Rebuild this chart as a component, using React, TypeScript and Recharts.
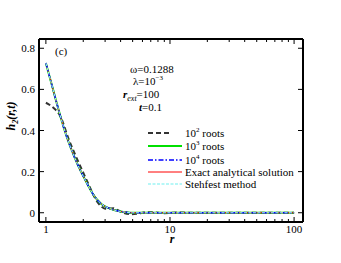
import React from 'react';
import { LineChart, Line, XAxis, YAxis, Customized } from 'recharts';

// exact analytical solution (10^3, 10^4 roots and Stehfest sit on top of it)
const rExact = [1, 1.1, 1.2, 1.3, 1.4, 1.5, 1.6, 1.7, 1.8, 1.9, 2.0, 2.2, 2.4, 2.6, 2.8, 3.0, 3.3, 3.6, 4.0, 4.5, 5, 6, 8, 10, 15, 20, 30, 50, 70, 100];
const hExact = [0.728, 0.636, 0.551, 0.476, 0.41, 0.355, 0.31, 0.27, 0.235, 0.205, 0.178, 0.13, 0.09, 0.062, 0.043, 0.031, 0.02, 0.012, 0.006, 0.002, 0, 0, 0, 0, 0, 0, 0, 0, 0, 0];

// 10^2 roots, truncated series with its wiggle near zero
const rRoots2 = [1, 1.1, 1.2, 1.3, 1.35, 1.5, 1.7, 2.0, 2.2, 2.4, 2.6, 2.8, 3.0, 3.2, 3.5, 3.8, 4.2, 4.8, 5.5, 6.5, 7.5, 9, 12, 16, 25, 40, 60, 100];
const hRoots2 = [0.535, 0.52, 0.5, 0.472, 0.45, 0.37, 0.29, 0.195, 0.14, 0.09, 0.052, 0.03, 0.02, 0.02, 0.022, 0.012, 0, -0.007, -0.004, 0.003, 0.002, -0.002, 0.001, 0, 0, 0, 0, 0];

const xTicks = [1, 2, 3, 4, 5, 6, 7, 8, 9, 10, 20, 30, 40, 50, 60, 70, 80, 90, 100];
const xLabels = [1, 10, 100];
const yTicks = [0, 0.2, 0.4, 0.6, 0.8];

const FONT = 'Liberation Serif, Times New Roman, serif';
const txt = { fontFamily: FONT };

const toPoints = (rs: number[], hs: number[]) => rs.map((r, i) => ({ r, h: hs[i] }));

const exactData = toPoints(rExact, hExact);
const roots2Data = toPoints(rRoots2, hRoots2);

const BottomTick = ({ x, y, payload }: any) => {
  const major = xLabels.includes(payload.value);
  return (
    <g>
      <line x1={x} y1={y} x2={x} y2={y - (major ? 5 : 3)} stroke="#000" strokeWidth={1} />
      {major && (
        <text x={x} y={y + 11} textAnchor="middle" style={txt} fontSize={11} fill="#000">
          {payload.value}
        </text>
      )}
    </g>
  );
};

const TopTick = ({ x, y, payload }: any) => {
  const major = xLabels.includes(payload.value);
  return <line x1={x} y1={y} x2={x} y2={y + (major ? 5 : 3)} stroke="#000" strokeWidth={1} />;
};

const LeftTick = ({ x, y, payload }: any) => (
  <g>
    <line x1={x} y1={y} x2={x + 5} y2={y} stroke="#000" strokeWidth={1} />
    <text x={x - 4} y={y + 4} textAnchor="end" style={txt} fontSize={11} fill="#000">
      {payload.value}
    </text>
  </g>
);

const RightTick = ({ x, y }: any) => <line x1={x} y1={y} x2={x - 5} y2={y} stroke="#000" strokeWidth={1} />;

const legendItems = [
  { key: 'roots2', pow: '2', name: 'roots', stroke: '#333', width: 2, dash: '5 3' },
  { key: 'roots3', pow: '3', name: 'roots', stroke: '#00e000', width: 2, dash: undefined },
  { key: 'roots4', pow: '4', name: 'roots', stroke: '#0000ff', width: 1.5, dash: '5 2 1.5 2' },
  { key: 'exact', pow: '', name: 'Exact analytical solution', stroke: '#ff0000', width: 1, dash: undefined },
  { key: 'stehfest', pow: '', name: 'Stehfest method', stroke: '#9ff5f5', width: 1.5, dash: '3 1.5' },
];

const LegendBox = () => {
  const rowY = [133, 146, 160, 172, 184];
  return (
    <g style={txt} fontSize={11} fill="#000">
      {legendItems.map((it, i) => (
        <g key={it.key}>
          <line x1={148} x2={it.key === 'roots2' ? 170 : 182} y1={rowY[i]} y2={rowY[i]} stroke={it.stroke} strokeWidth={it.width} strokeDasharray={it.dash} />
          <text x={185} y={rowY[i] + 4} style={txt}>
            {it.pow ? (
              <>
                10<tspan fontSize={7} dy={-5}>{it.pow}</tspan>
                <tspan dy={5}> {it.name}</tspan>
              </>
            ) : (
              it.name
            )}
          </text>
        </g>
      ))}
    </g>
  );
};

const Annotations = () => (
  <g style={txt} fontSize={11} fill="#000">
    <text x={55} y={55} style={txt}>(c)</text>
    <text x={130} y={73} style={txt}>ω=0.1288</text>
    <text x={133} y={85} style={txt}>
      λ=10<tspan fontSize={7} dy={-5}>−3</tspan>
    </text>
    <text x={123} y={98} style={txt}>
      <tspan fontStyle="italic" fontWeight="bold">r</tspan>
      <tspan fontStyle="italic" fontSize={8} dy={3}>ext</tspan>
      <tspan dy={-3}>=100</tspan>
    </text>
    <text x={139} y={111} style={txt}>
      <tspan fontStyle="italic" fontWeight="bold">t</tspan>=0.1
    </text>
    <text x={15} y={116} transform="rotate(-90 15 116)" textAnchor="middle" style={txt} fontWeight="bold" fontStyle="italic" fontSize={12}>
      h<tspan fontSize={8} dy={3}>2</tspan>
      <tspan dy={-3}>(r,t)</tspan>
    </text>
    <text x={172} y={243} textAnchor="middle" style={txt} fontWeight="bold" fontStyle="italic" fontSize={12}>r</text>
    <LegendBox />
  </g>
);

export default function App() {
  return (
    <div style={{ position: 'absolute', left: 0, top: 0, width: 341, height: 263, background: '#fff' }}>
      <LineChart width={341} height={263} margin={{ top: 38, right: 37, bottom: 40, left: 38 }}>
        <XAxis
          xAxisId="b"
          dataKey="r"
          type="number"
          scale="log"
          domain={[0.88, 118]}
          allowDataOverflow
          ticks={xTicks}
          interval={0}
          height={1}
          tickSize={0}
          tickMargin={0}
          tick={<BottomTick />}
          axisLine={{ stroke: '#000', strokeWidth: 2 }}
        />
        <XAxis
          xAxisId="t"
          orientation="top"
          dataKey="r"
          type="number"
          scale="log"
          domain={[0.88, 118]}
          allowDataOverflow
          ticks={xTicks}
          interval={0}
          height={1}
          tickSize={0}
          tickMargin={0}
          tick={<TopTick />}
          axisLine={{ stroke: '#000', strokeWidth: 2 }}
        />
        <YAxis
          yAxisId="l"
          type="number"
          domain={[-0.045, 0.845]}
          allowDataOverflow
          ticks={yTicks}
          interval={0}
          width={1}
          tickSize={0}
          tickMargin={0}
          tick={<LeftTick />}
          axisLine={{ stroke: '#000', strokeWidth: 2 }}
        />
        <YAxis
          yAxisId="r"
          orientation="right"
          type="number"
          domain={[-0.045, 0.845]}
          allowDataOverflow
          ticks={yTicks}
          interval={0}
          width={1}
          tickSize={0}
          tickMargin={0}
          tick={<RightTick />}
          axisLine={{ stroke: '#000', strokeWidth: 2 }}
        />
        <Line xAxisId="b" yAxisId="l" data={roots2Data} dataKey="h" name="roots2" type="monotone" stroke="#333" strokeWidth={2} strokeDasharray="5 3" dot={false} isAnimationActive={false} />
        <Line xAxisId="b" yAxisId="l" data={exactData} dataKey="h" name="roots3" type="monotone" stroke="#00e000" strokeWidth={2} dot={false} isAnimationActive={false} />
        <Line xAxisId="b" yAxisId="l" data={exactData} dataKey="h" name="exact" type="monotone" stroke="#ff0000" strokeWidth={1} dot={false} isAnimationActive={false} />
        <Line xAxisId="b" yAxisId="l" data={exactData} dataKey="h" name="roots4" type="monotone" stroke="#0000ff" strokeWidth={1.5} strokeDasharray="5 2 1.5 2" dot={false} isAnimationActive={false} />
        <Line xAxisId="b" yAxisId="l" data={exactData} dataKey="h" name="stehfest" type="monotone" stroke="#9ff5f5" strokeWidth={1} strokeDasharray="3 1.5" dot={false} isAnimationActive={false} />
        <Customized component={<Annotations />} />
      </LineChart>
    </div>
  );
}
